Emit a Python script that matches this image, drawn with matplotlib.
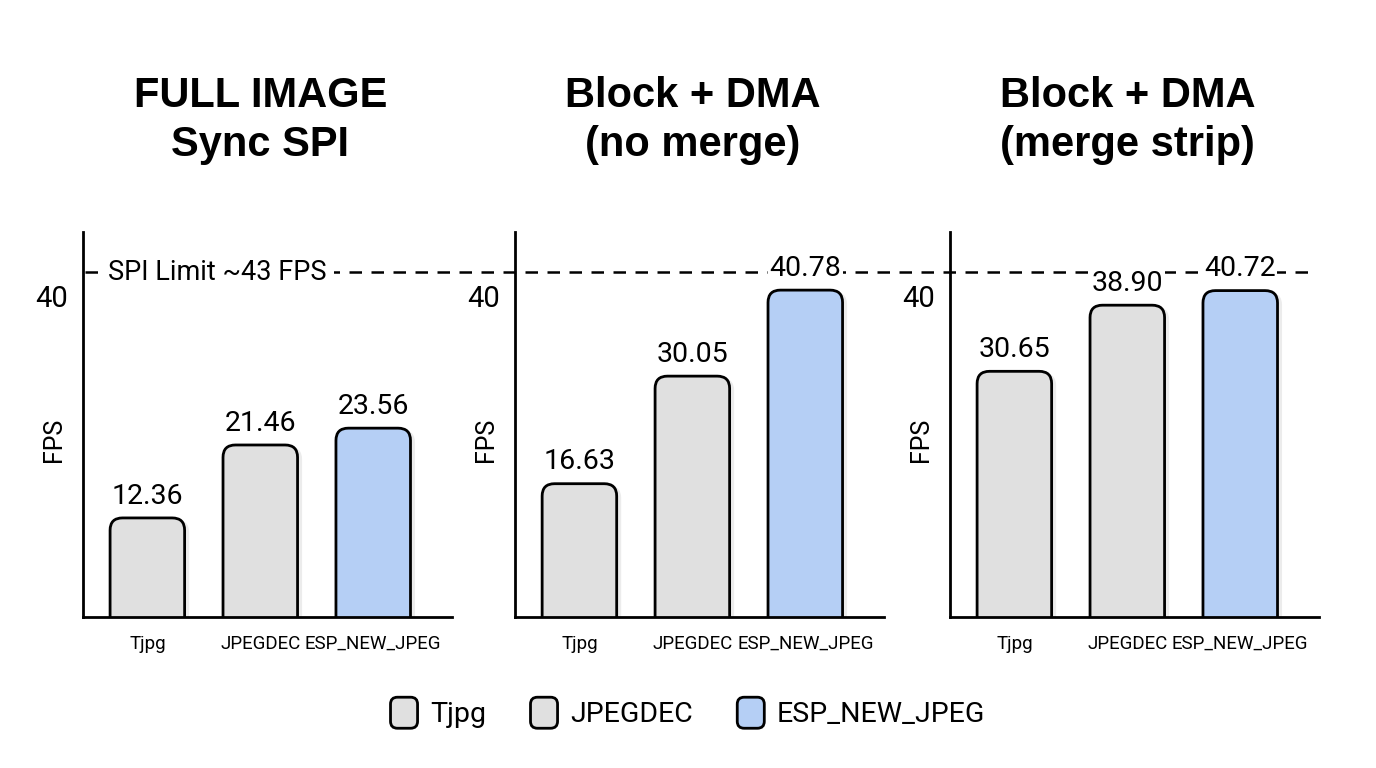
import matplotlib
matplotlib.use("Agg")
import matplotlib.pyplot as plt
from matplotlib.patches import FancyBboxPatch, Patch
from matplotlib.legend_handler import HandlerPatch
from matplotlib.lines import Line2D
from matplotlib.transforms import blended_transform_factory

plt.rcParams["font.family"] = ["Roboto", "DejaVu Sans"]

decoders = ["Tjpg", "JPEGDEC", "ESP_NEW_JPEG"]
panel_titles = ["FULL IMAGE\nSync SPI", "Block + DMA\n(no merge)", "Block + DMA\n(merge strip)"]
fps_full_sync = [12.36, 21.46, 23.56]
fps_block_nomerge = [16.63, 30.05, 40.78]
fps_block_merge = [30.65, 38.90, 40.72]
spi_limit = 43

gray = "#e0e0e0"
blue = "#b5cff5"
colors = [gray, gray, blue]

fig = plt.figure(figsize=(13.76, 7.68), dpi=100)
lefts = [0.0603, 0.3743, 0.6904]
axes = [fig.add_axes([l, 0.1966, 0.2725, 0.501]) for l in lefts]


def draw_panel(ax, title, values):
    ax.set_facecolor("none")
    w = 0.66
    for i, v in enumerate(values):
        shadow = FancyBboxPatch((i - w / 2 + 0.04, -3), w, v + 3 - 0.25,
                                boxstyle="round,pad=0,rounding_size=0.11",
                                mutation_aspect=14, facecolor="#ececec",
                                edgecolor="none", zorder=1)
        ax.add_patch(shadow)
        bar = FancyBboxPatch((i - w / 2, -3), w, v + 3,
                             boxstyle="round,pad=0,rounding_size=0.11",
                             mutation_aspect=14, facecolor=colors[i],
                             edgecolor="black", linewidth=2.0, zorder=2)
        ax.add_patch(bar)
        ax.annotate(f"{v:.2f}", (i, v), xytext=(0, 6), textcoords="offset points",
                    ha="center", va="bottom", fontsize=20.5, zorder=4,
                    bbox=dict(facecolor="white", edgecolor="none", pad=1))

    ax.set_xlim(-0.57, 2.75)
    ax.set_ylim(0, 48)
    ax.set_xticks(range(len(decoders)))
    ax.set_xticklabels(decoders, fontsize=13.5)
    ax.set_yticks([40])
    ax.set_yticklabels(["40"], fontsize=21)
    ax.tick_params(axis="both", length=0)
    ax.tick_params(axis="x", pad=13)
    ax.tick_params(axis="y", pad=11)
    ax.set_ylabel("FPS", fontsize=18)
    ax.yaxis.set_label_coords(-0.045, 0.46)
    for side in ["top", "right"]:
        ax.spines[side].set_visible(False)
    for side in ["left", "bottom"]:
        ax.spines[side].set_linewidth(2.0)
    ax.spines["bottom"].set_bounds(-0.57, 2.7)

    trans = blended_transform_factory(ax.transData, ax.transAxes)
    ax.text(1, 1.29, title, transform=trans, ha="center", va="center",
            fontsize=30, fontweight="bold", family=["Liberation Sans", "DejaVu Sans"],
            linespacing=1.3)


for ax, title, vals in zip(axes, panel_titles, [fps_full_sync, fps_block_nomerge, fps_block_merge]):
    draw_panel(ax, title, vals)

# SPI limit dashed line across all panels
line_trans = blended_transform_factory(fig.transFigure, axes[0].transData)
fig.add_artist(Line2D([0.0615, 0.952], [spi_limit, spi_limit], transform=line_trans,
                      color="black", linewidth=1.8, linestyle=(0, (5, 3.8)), zorder=-1))
axes[0].text(0.067, spi_limit, "SPI Limit ~43 FPS", transform=blended_transform_factory(
    axes[0].transAxes, axes[0].transData), ha="left", va="center", fontsize=19.5, zorder=4,
    bbox=dict(facecolor="white", edgecolor="none", pad=5))


def rounded_handle(legend, orig_handle, xdescent, ydescent, width, height, fontsize):
    return FancyBboxPatch((-xdescent, -ydescent - 2), width, height + 4,
                          boxstyle="round,pad=0,rounding_size=5")


handles = [Patch(facecolor=c, edgecolor="black", linewidth=2.0) for c in colors]
fig.legend(handles, decoders, loc="center", bbox_to_anchor=(0.5, 0.07), ncol=3,
           frameon=False, fontsize=20.5, handlelength=0.95, handleheight=1.0,
           handletextpad=0.45, columnspacing=1.55,
           handler_map={Patch: HandlerPatch(patch_func=rounded_handle)})

fig.savefig("out.png", dpi=100)
